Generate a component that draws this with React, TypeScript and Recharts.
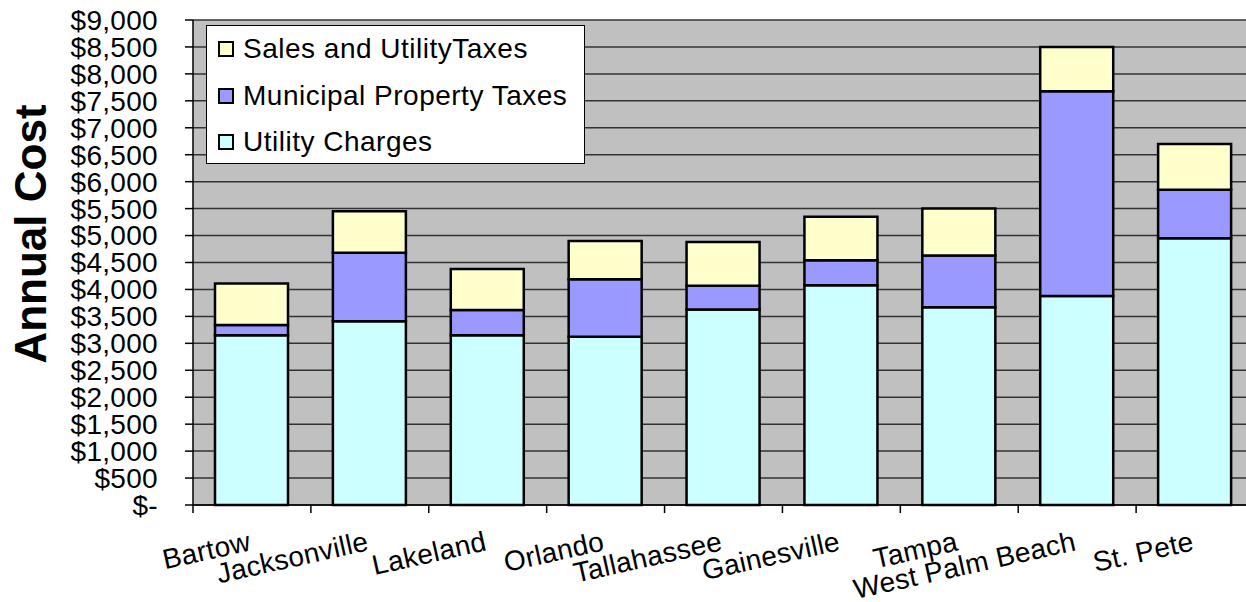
import React from 'react';
import { BarChart, Bar, XAxis, YAxis, CartesianGrid, Label } from 'recharts';

const categories = ['Bartow', 'Jacksonville', 'Lakeland', 'Orlando', 'Tallahassee', 'Gainesville', 'Tampa', 'West Palm Beach', 'St. Pete'];
const utilityCharges = [3150, 3410, 3150, 3120, 3630, 4080, 3670, 3880, 4950];
const propertyTaxes = [190, 1270, 470, 1070, 440, 460, 960, 3800, 900];
const salesTaxes = [770, 770, 760, 710, 810, 810, 870, 820, 850];
const yTicks = [0, 500, 1000, 1500, 2000, 2500, 3000, 3500, 4000, 4500, 5000, 5500, 6000, 6500, 7000, 7500, 8000, 8500, 9000];

const seriesNames = {
  utility: 'Utility Charges',
  property: 'Municipal Property Taxes',
  sales: 'Sales and UtilityTaxes',
};
const colors = { utility: '#CCFFFF', property: '#9999FF', sales: '#FFFFCC' };

const data = categories.map((c, i) => ({
  name: c,
  utility: utilityCharges[i],
  property: propertyTaxes[i],
  sales: salesTaxes[i],
}));

const FONT = "Arial, 'Liberation Sans', sans-serif";

const fmt = (v: number) => (v === 0 ? '$-' : '$' + v.toLocaleString('en-US'));

const XTick = (props: any) => {
  const { x, y, payload } = props;
  const off = payload.offset || 0;
  const bx = x - off;
  const ty = y + 37;
  return (
    <g>
      <line x1={bx} y1={y - 8} x2={bx} y2={y} stroke="#000" strokeWidth={1.5} />
      <text
        x={x}
        y={ty}
        textAnchor="end"
        fontSize={28}
        fontFamily={FONT}
        letterSpacing={0.3}
        fill="#000"
        transform={`rotate(-12.5, ${x}, ${ty})`}
      >
        {payload.value}
      </text>
    </g>
  );
};

const legendItems = [
  { key: 'sales', label: seriesNames.sales },
  { key: 'property', label: seriesNames.property },
  { key: 'utility', label: seriesNames.utility },
] as const;

export default function App() {
  return (
    <div style={{ position: 'fixed', left: 0, top: 0, width: 1246, height: 602, overflow: 'hidden', background: '#fff' }}>
      <BarChart
        width={1262}
        height={602}
        data={data}
        margin={{ top: 20, right: 8, left: 0, bottom: 0 }}
        barSize={73}
      >
        <CartesianGrid vertical={false} fill="#C0C0C0" stroke="#333" strokeWidth={1.5} />
        <XAxis
          dataKey="name"
          height={97}
          axisLine={{ stroke: '#000', strokeWidth: 1.5 }}
          tickLine={false}
          tick={<XTick />}
          interval={0}
        />
        <YAxis
          width={193}
          domain={[0, 9000]}
          ticks={yTicks}
          interval={0}
          tickFormatter={fmt}
          axisLine={{ stroke: '#000', strokeWidth: 1.5 }}
          tickLine={{ stroke: '#000', strokeWidth: 1.5 }}
          tickSize={8}
          tickMargin={27}
          tick={{ fontSize: 28, fontFamily: FONT, fill: '#000', letterSpacing: 0.3 }}
        >
          <Label
            content={() => (
              <text
                x={30}
                y={234}
                textAnchor="middle"
                dominantBaseline="central"
                fontSize={44}
                fontWeight="bold"
                fontFamily={FONT}
                fill="#000"
                transform="rotate(-90, 30, 234)"
              >
                Annual Cost
              </text>
            )}
          />
        </YAxis>
        <Bar dataKey="utility" name={seriesNames.utility} stackId="a" fill={colors.utility} stroke="#000" strokeWidth={2.5} isAnimationActive={false} />
        <Bar dataKey="property" name={seriesNames.property} stackId="a" fill={colors.property} stroke="#000" strokeWidth={2.5} isAnimationActive={false} />
        <Bar dataKey="sales" name={seriesNames.sales} stackId="a" fill={colors.sales} stroke="#000" strokeWidth={2.5} isAnimationActive={false} />
      </BarChart>
      <div
        style={{
          position: 'absolute',
          left: 206,
          top: 25,
          width: 379,
          height: 139,
          background: '#fff',
          border: '1.5px solid #000',
          fontFamily: FONT,
          fontSize: 28,
          letterSpacing: 0.5,
          color: '#000',
          boxSizing: 'border-box',
          paddingTop: 0,
        }}
      >
        {legendItems.map((it) => (
          <div key={it.key} style={{ display: 'flex', alignItems: 'center', height: 46.5, paddingLeft: 11 }}>
            <span
              style={{
                display: 'inline-block',
                width: 12,
                height: 12,
                border: '2px solid #000',
                background: colors[it.key],
                marginRight: 9,
                flexShrink: 0,
              }}
            />
            <span style={{ whiteSpace: 'nowrap' }}>{it.label}</span>
          </div>
        ))}
      </div>
    </div>
  );
}
